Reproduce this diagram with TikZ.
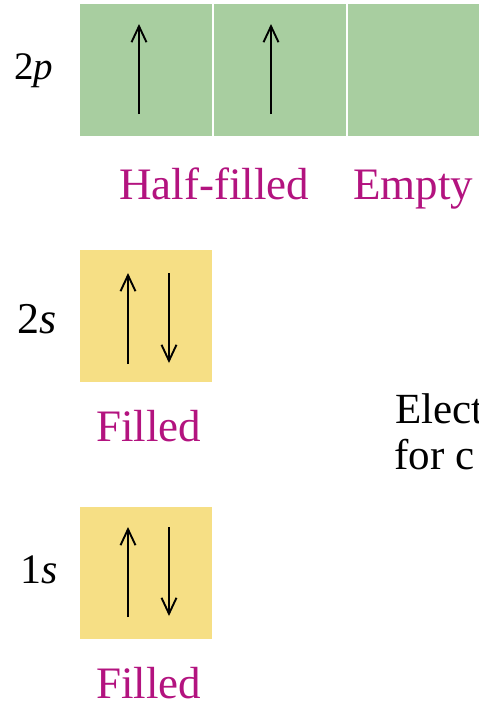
\documentclass[tikz,border=0pt]{standalone}
\usepackage{fontspec}
\newfontfamily\timesface{Liberation Serif}
\usetikzlibrary{arrows.meta}
\definecolor{pgreen}{HTML}{A8CEA0}
\definecolor{syellow}{HTML}{F6DF85}
\definecolor{labmag}{HTML}{B3137F}
\tikzset{
  orb/.style={inner sep=0pt,outer sep=0pt,minimum width=132pt,minimum height=132pt,anchor=north west},
  spin/.style={line width=1.9pt,-{Straight Barb[length=16pt,width=15pt,line width=1.9pt]}},
  txt/.style={inner sep=0pt,anchor=base west}
}
\begin{document}
\begin{tikzpicture}[x=1pt,y=-1pt]
  \useasboundingbox (0,0) rectangle (479,702);
  % 2p subshell: three orbitals
  \node[orb,fill=pgreen] (p1) at (80,4) {};
  \node[orb,fill=pgreen] (p2) at (214,4) {};
  \node[orb,fill=pgreen,minimum width=131pt] (p3) at (348,4) {};
  \draw[spin] (p1.north west) ++(59,110) -- ++(0,-90);
  \draw[spin] (p2.north west) ++(57,110) -- ++(0,-90);
  % 2s orbital
  \node[orb,fill=syellow] (s2) at (80,250) {};
  \draw[spin] (s2.north west) ++(48,114) -- ++(0,-91);
  \draw[spin] (s2.north west) ++(89,23) -- ++(0,90);
  % 1s orbital
  \node[orb,fill=syellow] (s1) at (80,507) {};
  \draw[spin] (s1.north west) ++(48,110) -- ++(0,-90);
  \draw[spin] (s1.north west) ++(89,20) -- ++(0,89);
  % subshell names
  \node[txt] (l2p) at (14,79) {\timesface\fontsize{39}{46}\selectfont 2\textit{p}};
  \node[txt] (l2s) at (17,333) {\timesface\fontsize{44}{50}\selectfont 2\textit{s}};
  \node[txt] (l1s) at (20,583) {\timesface\fontsize{42}{48}\selectfont 1\textit{s}};
  % occupancy labels
  \node[txt,text=labmag] (half) at (119,199) {\timesface\fontsize{45}{52}\selectfont Half-filled};
  \node[txt,text=labmag] (empty) at (353,199) {\timesface\fontsize{45}{52}\selectfont Empty};
  \node[txt,text=labmag] (f2s) at (96,441) {\timesface\fontsize{45}{52}\selectfont Filled};
  \node[txt,text=labmag] (f1s) at (96,698) {\timesface\fontsize{45}{52}\selectfont Filled};
  % caption text, running on past the right edge
  \node[txt] (cap1) at (395,423) {\timesface\fontsize{43}{50}\selectfont Elect};
  \node[txt] (cap2) at (394,469) {\timesface\fontsize{43}{50}\selectfont for c};
\end{tikzpicture}
\end{document}
